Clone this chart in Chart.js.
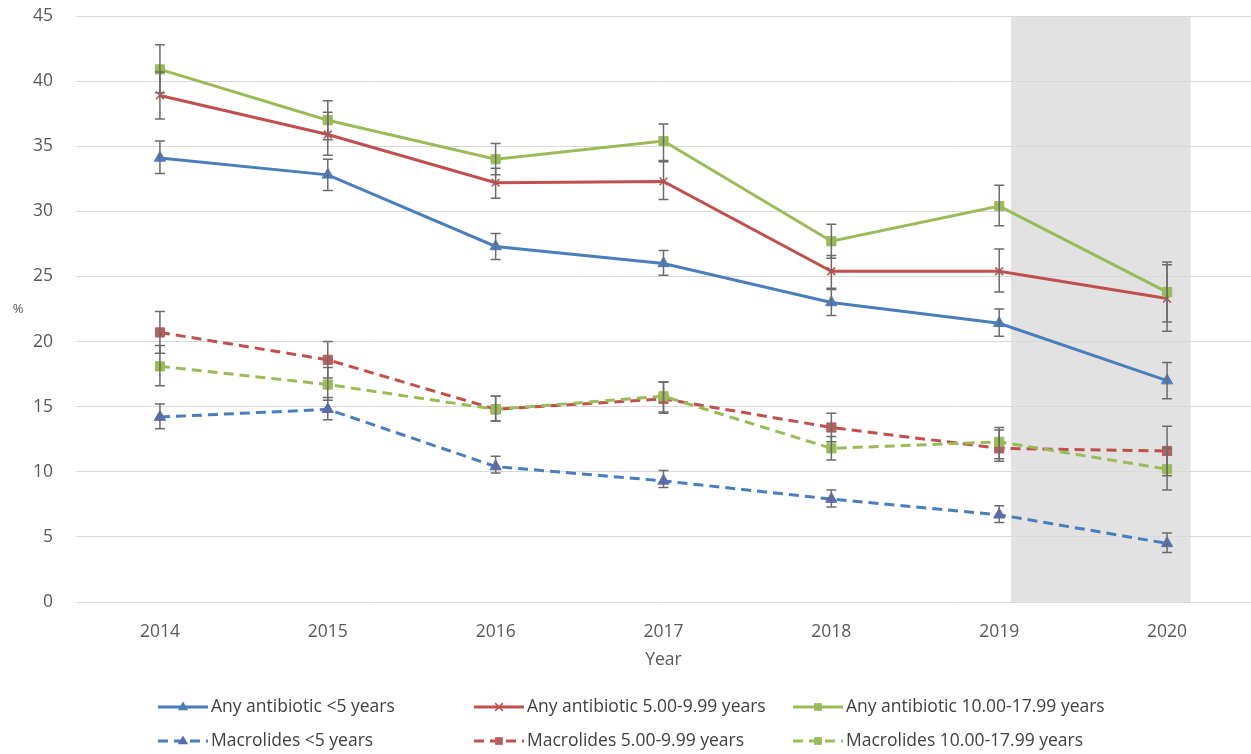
<!DOCTYPE html>
<html>
<head>
<meta charset="utf-8">
<script src="https://cdn.jsdelivr.net/npm/chart.js@4.4.1/dist/chart.umd.min.js"></script>
<style>
  html, body { margin: 0; padding: 0; background: #ffffff; }
  #wrap { width: 1251px; height: 754px; position: relative; }
</style>
</head>
<body>
<div id="wrap"><canvas id="chart" width="1251" height="754"></canvas></div>
<script>
// Survey years
const years = ['2014', '2015', '2016', '2017', '2018', '2019', '2020'];

// Any antibiotic, by age group (%), with 95% CI bounds
const anyUnder5      = [34.1, 32.8, 27.3, 26.0, 23.0, 21.4, 17.0];
const anyUnder5Low   = [32.9, 31.6, 26.3, 25.1, 22.0, 20.4, 15.6];
const anyUnder5High  = [35.4, 34.0, 28.3, 27.0, 24.0, 22.5, 18.4];

const any5to10       = [38.9, 35.9, 32.2, 32.3, 25.4, 25.4, 23.3];
const any5to10Low    = [37.1, 34.3, 31.0, 30.9, 24.1, 23.8, 20.8];
const any5to10High   = [40.7, 37.6, 33.3, 33.8, 26.6, 27.1, 25.9];

const any10to18      = [40.9, 37.0, 34.0, 35.4, 27.7, 30.4, 23.8];
const any10to18Low   = [39.1, 35.5, 32.8, 33.9, 26.4, 28.9, 21.5];
const any10to18High  = [42.8, 38.5, 35.2, 36.7, 29.0, 32.0, 26.1];

// Macrolides, by age group (%), with 95% CI bounds
const macUnder5      = [14.2, 14.8, 10.4, 9.3, 7.9, 6.7, 4.5];
const macUnder5Low   = [13.3, 14.0, 9.9, 8.8, 7.3, 6.1, 3.8];
const macUnder5High  = [15.2, 15.7, 11.2, 10.1, 8.6, 7.4, 5.3];

const mac5to10       = [20.7, 18.6, 14.8, 15.6, 13.4, 11.8, 11.6];
const mac5to10Low    = [19.1, 17.2, 13.9, 14.5, 12.3, 10.8, 9.7];
const mac5to10High   = [22.3, 20.0, 15.8, 16.9, 14.5, 13.2, 13.5];

const mac10to18      = [18.1, 16.7, 14.8, 15.8, 11.8, 12.3, 10.2];
const mac10to18Low   = [16.6, 15.5, 13.9, 14.6, 10.9, 11.0, 8.6];
const mac10to18High  = [19.7, 18.0, 15.8, 16.9, 12.7, 13.4, 11.8];

// Y axis tick values
const yTicks = [0, 5, 10, 15, 20, 25, 30, 35, 40, 45];

// Pandemic year highlighted with a grey band
const shadedYear = '2020';

const BLUE = '#4a7ebb', RED = '#c0504d', GREEN = '#9bbb59';
const FONT = "'Open Sans', 'Liberation Sans', sans-serif";

function series(label, data, low, high, color, markerColor, style, dashed, order) {
  return {
    label, data, errLow: low, errHigh: high,
    borderColor: color, backgroundColor: color,
    borderWidth: 3,
    borderDash: dashed ? [10, 6] : [],
    pointStyle: style,
    pointRadius: style === 'crossRot' ? 5.5 : 6.5,
    pointHoverRadius: 6.5,
    pointBackgroundColor: markerColor,
    pointBorderColor: markerColor,
    pointBorderWidth: style === 'crossRot' ? 1.5 : 1,
    tension: 0,
    order
  };
}

// Grey band behind the grid for the highlighted year
const bandPlugin = {
  id: 'band',
  beforeDraw(chart, args, opts) {
    const x = chart.scales.x, area = chart.chartArea, ctx = chart.ctx;
    const idx = years.indexOf(opts.year);
    const x0 = x.getPixelForValue(idx + opts.from);
    const x1 = x.getPixelForValue(idx + opts.to);
    ctx.save();
    ctx.fillStyle = opts.color;
    ctx.fillRect(x0, area.top, x1 - x0, area.bottom - area.top);
    ctx.restore();
  }
};

// Confidence interval whiskers
const errorBarPlugin = {
  id: 'errorBars',
  afterDatasetsDraw(chart, args, opts) {
    const ctx = chart.ctx, xs = chart.scales.x, ys = chart.scales.y;
    ctx.save();
    ctx.strokeStyle = opts.color;
    ctx.lineWidth = opts.width;
    chart.data.datasets.forEach(ds => {
      ds.data.forEach((v, i) => {
        const px = xs.getPixelForValue(i);
        const yLo = ys.getPixelForValue(ds.errLow[i]);
        const yHi = ys.getPixelForValue(ds.errHigh[i]);
        ctx.beginPath();
        ctx.moveTo(px, yLo); ctx.lineTo(px, yHi);
        ctx.moveTo(px - opts.cap, yLo); ctx.lineTo(px + opts.cap, yLo);
        ctx.moveTo(px - opts.cap, yHi); ctx.lineTo(px + opts.cap, yHi);
        ctx.stroke();
      });
    });
    ctx.restore();
  }
};

function drawMarker(ctx, style, x, y, r, color, lw) {
  ctx.save();
  ctx.fillStyle = color; ctx.strokeStyle = color; ctx.lineWidth = lw;
  ctx.setLineDash([]);
  ctx.beginPath();
  if (style === 'triangle') {
    ctx.moveTo(x, y - r);
    ctx.lineTo(x + r * 0.95, y + r * 0.6);
    ctx.lineTo(x - r * 0.95, y + r * 0.6);
    ctx.closePath(); ctx.fill();
  } else if (style === 'rect') {
    const s = r * Math.SQRT1_2;
    ctx.rect(x - s, y - s, 2 * s, 2 * s); ctx.fill();
  } else if (style === 'crossRot') {
    const s = r * Math.SQRT1_2;
    ctx.moveTo(x - s, y - s); ctx.lineTo(x + s, y + s);
    ctx.moveTo(x + s, y - s); ctx.lineTo(x - s, y + s);
    ctx.stroke();
  }
  ctx.restore();
}

// Two-row, three-column legend under the axis
const gridLegendPlugin = {
  id: 'gridLegend',
  afterDraw(chart, args, opts) {
    const ctx = chart.ctx;
    chart.data.datasets.forEach((ds, i) => {
      const x = opts.columns[i % 3];
      const y = opts.rows[Math.floor(i / 3)];
      ctx.save();
      ctx.strokeStyle = ds.borderColor;
      ctx.lineWidth = ds.borderWidth;
      ctx.setLineDash(ds.borderDash);
      ctx.beginPath();
      ctx.moveTo(x, y); ctx.lineTo(x + opts.sample, y);
      ctx.stroke();
      ctx.restore();
      drawMarker(ctx, ds.pointStyle, x + opts.sample / 2, y, 5.5, ds.pointBackgroundColor, ds.pointBorderWidth);
      ctx.save();
      ctx.fillStyle = opts.color;
      ctx.font = opts.font;
      ctx.textBaseline = 'middle';
      ctx.textAlign = 'left';
      ctx.fillText(ds.label, x + opts.sample + 3, y);
      ctx.restore();
    });
  }
};

// Small unrotated unit label beside the y axis
const unitLabelPlugin = {
  id: 'unitLabel',
  afterDraw(chart, args, opts) {
    const ctx = chart.ctx, ys = chart.scales.y;
    ctx.save();
    ctx.fillStyle = opts.color;
    ctx.font = opts.font;
    ctx.textAlign = 'center';
    ctx.textBaseline = 'middle';
    ctx.fillText(opts.text, opts.x, (ys.top + ys.bottom) / 2);
    ctx.restore();
  }
};

new Chart(document.getElementById('chart'), {
  type: 'line',
  data: {
    labels: years,
    datasets: [
      series('Any antibiotic <5 years', anyUnder5, anyUnder5Low, anyUnder5High, BLUE, BLUE, 'triangle', false, 5),
      series('Any antibiotic 5.00-9.99 years', any5to10, any5to10Low, any5to10High, RED, RED, 'crossRot', false, 4),
      series('Any antibiotic 10.00-17.99 years', any10to18, any10to18Low, any10to18High, GREEN, GREEN, 'rect', false, 3),
      series('Macrolides <5 years', macUnder5, macUnder5Low, macUnder5High, BLUE, '#5a6cb4', 'triangle', true, 2),
      series('Macrolides 5.00-9.99 years', mac5to10, mac5to10Low, mac5to10High, RED, '#b4605e', 'rect', true, 1),
      series('Macrolides 10.00-17.99 years', mac10to18, mac10to18Low, mac10to18High, GREEN, GREEN, 'rect', true, 0)
    ]
  },
  options: {
    responsive: false,
    animation: false,
    devicePixelRatio: 1,
    layout: { autoPadding: false, padding: { top: 16, right: 0, bottom: 83, left: 0 } },
    plugins: {
      legend: { display: false },
      tooltip: { enabled: false },
      band: { year: shadedYear, from: -0.93, to: 0.14, color: '#e2e2e2' },
      errorBars: { color: '#6b6b6b', width: 1.5, cap: 5 },
      gridLegend: {
        columns: [158, 474, 793], rows: [707, 741], sample: 50,
        font: "17.5px " + FONT, color: '#404040'
      },
      unitLabel: { text: '%', x: 18, font: "13px " + FONT, color: '#595959' }
    },
    scales: {
      x: {
        type: 'category',
        offset: true,
        afterFit(scale) { scale.paddingLeft = 0; scale.paddingRight = 0; },
        grid: { display: false, drawTicks: false },
        border: { display: false },
        ticks: { color: '#595959', font: { family: FONT, size: 17.5 }, padding: 20, maxRotation: 0 },
        title: { display: true, text: 'Year', color: '#595959', font: { family: FONT, size: 17.5 }, padding: { top: -13, bottom: 0 } }
      },
      y: {
        min: 0, max: 45,
        afterFit(scale) { scale.width = 76; scale.paddingTop = 0; scale.paddingBottom = 0; },
        afterBuildTicks(scale) { scale.ticks = yTicks.map(v => ({ value: v })); },
        grid: { color: '#d9d9d9', lineWidth: 1, drawTicks: false },
        border: { display: false },
        ticks: { color: '#595959', font: { family: FONT, size: 17.5 }, padding: 23 }
      }
    }
  },
  plugins: [bandPlugin, errorBarPlugin, gridLegendPlugin, unitLabelPlugin]
});
</script>
</body>
</html>
